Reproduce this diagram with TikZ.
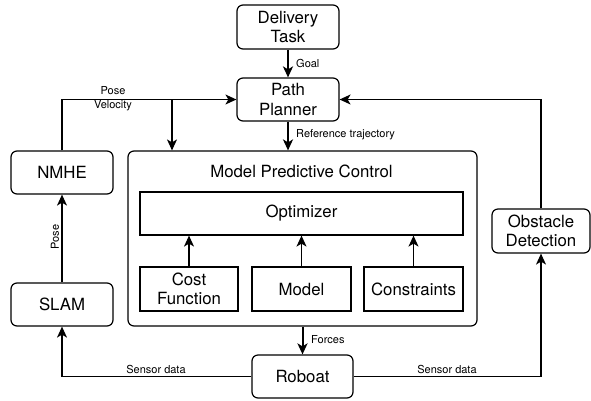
\documentclass[tikz,border=0pt]{standalone}
\usepackage{fontspec}
\setmainfont{TeX Gyre Heros}
\usetikzlibrary{arrows.meta,calc}
\begin{document}
\begin{tikzpicture}[x=1pt,y=-1pt,
  box/.style={draw,line width=1.2pt,rounded corners=6pt,inner sep=0pt,align=center,font=\fontsize{16.8}{19.5}\selectfont},
  sqbox/.style={draw,line width=1.2pt,inner sep=0pt,align=center,font=\fontsize{16.8}{19.5}\selectfont},
  conn/.style={line width=1.2pt,-{Stealth[length=11pt,width=10pt,inset=3pt]}},
  thickconn/.style={line width=2pt,-{Stealth[length=11pt,width=10pt,inset=3pt]}},
  lbl/.style={font=\fontsize{11}{14}\selectfont,inner sep=1pt,align=center}]
\useasboundingbox (0,0) rectangle (591,400);
\node[box,minimum width=102pt,minimum height=44pt] (del) at (288,27) {Delivery\\Task};
\node[box,minimum width=102pt,minimum height=43pt] (plan) at (288,99.5) {Path\\Planner};
\node[box,minimum width=102pt,minimum height=43pt] (nmhe) at (62,172.5) {NMHE};
\node[box,minimum width=102pt,minimum height=43pt] (slam) at (62,304.5) {SLAM};
\node[box,minimum width=349pt,minimum height=175pt] (mpc) at (302.5,238.5) {};
\node[font=\fontsize{16.8}{19.5}\selectfont] (mpct) at (301.5,171) {Model Predictive Control};
\node[sqbox,minimum width=323pt,minimum height=43pt] (opt) at (301.5,213.5) {Optimizer};
\node[sqbox,minimum width=98pt,minimum height=44pt] (cost) at (189,289) {Cost\\Function};
\node[sqbox,minimum width=99pt,minimum height=44pt] (model) at (301.5,289) {Model};
\node[sqbox,minimum width=99pt,minimum height=44pt] (cons) at (413.5,289) {Constraints};
\node[box,minimum width=101pt,minimum height=43pt] (robo) at (302.5,376.5) {Roboat};
\node[box,minimum width=98pt,minimum height=44pt] (obs) at (541,231) {Obstacle\\Detection};
\coordinate (br) at (172,99.5);
% connectors
\draw[thickconn] (del.south) -- (plan.north);
\node[lbl,anchor=west] (goal) at (295,63) {Goal};
\draw[conn] (nmhe.north) |- (plan.west);
\node[lbl] (pv) at (113,99) {Pose\\[0pt]Velocity};
\draw[conn] (br) -- (br |- mpc.north);
\draw[thickconn] (plan.south) -- (plan.south |- mpc.north);
\node[lbl,anchor=west] (reft) at (295,135) {Reference trajectory};
\draw[conn] (slam.north) -- (nmhe.south);
\node[lbl,rotate=90] (pose) at (55,237) {Pose};
\draw[conn] (cost.north) -- (cost.north |- opt.south);
\draw[conn] (model.north) -- (model.north |- opt.south);
\draw[conn] (cons.north) -- (cons.north |- opt.south);
\draw[thickconn] (mpc.south) -- (robo.north);
\node[lbl,anchor=west] (forces) at (310,340) {Forces};
\draw[conn] (robo.west) -| (slam.south);
\node[lbl] (sd1) at (156,369) {Sensor data};
\draw[conn] (robo.east) -| (obs.south);
\node[lbl] (sd2) at (447,369) {Sensor data};
\draw[conn] (obs.north) |- (plan.east);
\end{tikzpicture}
\end{document}
